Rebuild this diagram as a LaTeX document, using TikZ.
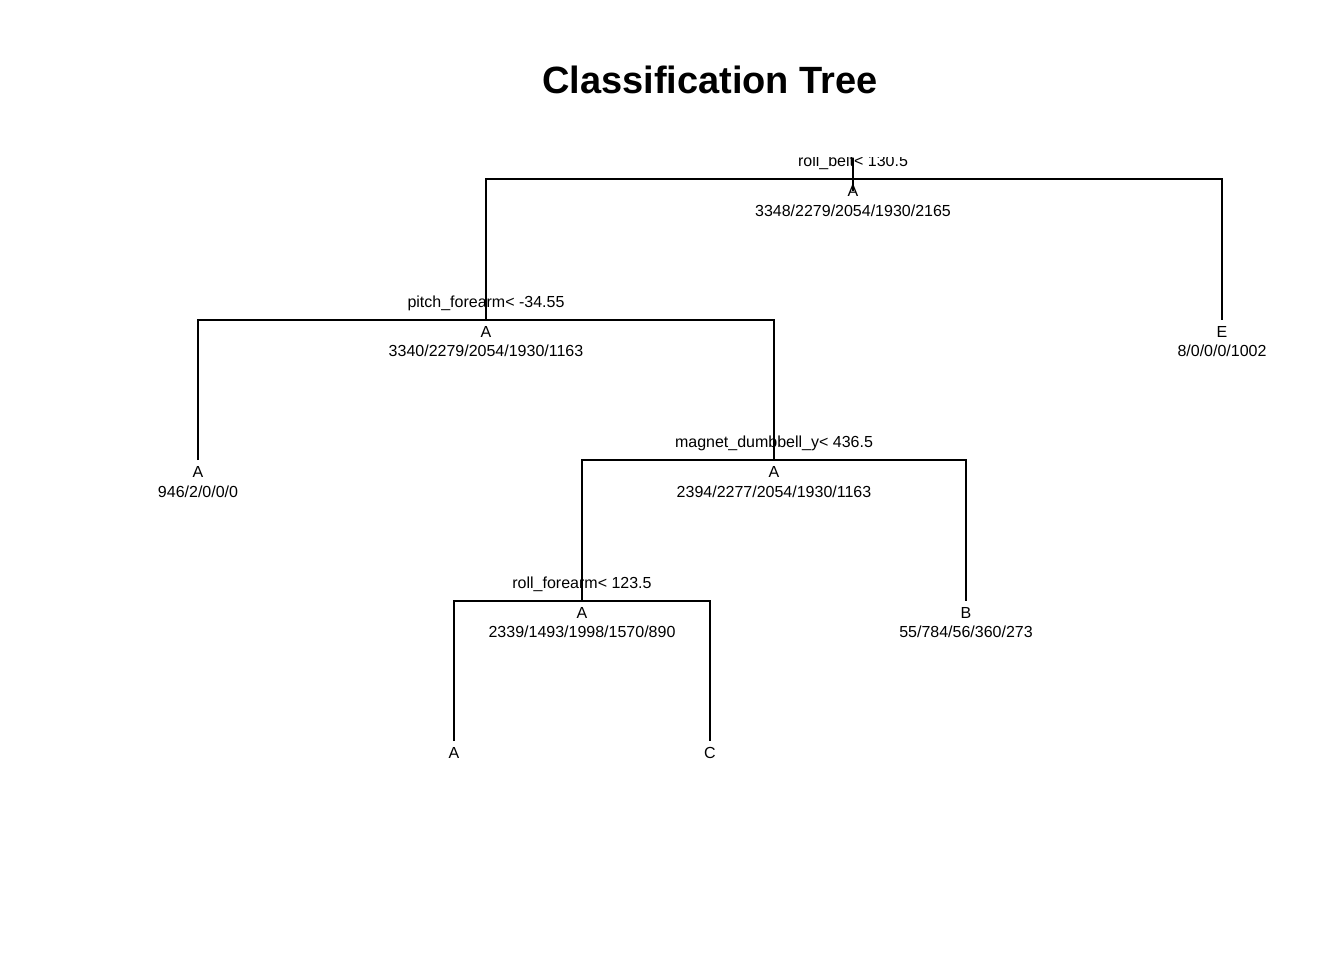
\documentclass[tikz,border=0pt]{standalone}
\usepackage{fontspec}
\setmainfont{Liberation Sans}
\usepackage{tikz}

\tikzset{
  branch/.style={line width=1.5pt},
  splitlab/.style={anchor=base, inner sep=0pt, font=\fontsize{12}{14}\selectfont},
  classlab/.style={anchor=base, inner sep=0pt, font=\fontsize{12}{14}\selectfont},
  countlab/.style={anchor=base, inner sep=0pt, font=\fontsize{12}{14}\selectfont}
}

\begin{document}
\begin{tikzpicture}[x=0.75pt, y=-0.75pt]
    \useasboundingbox (0,0) rectangle (1344,960);

    % Title
    \node[anchor=base, inner sep=0pt, font=\fontsize{28.5}{32}\selectfont\bfseries] (title) at (710,93) {Classification Tree};

    % Split points and leaves
    \coordinate (root) at (853,179);
    \coordinate (rootstub) at (853,157.5);
    \coordinate (rootend) at (853,191);
    \coordinate (pitch) at (486,320);
    \coordinate (leafE) at (1222,320);
    \coordinate (leafA1) at (198,460);
    \coordinate (magnet) at (774,460);
    \coordinate (rollf) at (582,601);
    \coordinate (leafB) at (966,601);
    \coordinate (leafA2) at (454,741);
    \coordinate (leafC) at (710,741);

    % Branches
    \draw[branch] (rootstub) -- (rootend);
    \draw[branch] (pitch) |- (root) -| (leafE);
    \draw[branch] (leafA1) |- (pitch) -| (magnet);
    \draw[branch] (rollf) |- (magnet) -| (leafB);
    \draw[branch] (leafA2) |- (rollf) -| (leafC);

    % Root label (cut at the top)
    \begin{scope}
        \clip (0,157.5) rectangle (1344,960);
        \node[splitlab] (rootsplit) at (853,166) {roll\_belt< 130.5};
    \end{scope}
    \node[classlab] (rootclass) at (853,196) {A};
    \node[countlab] (rootcount) at (853,216) {3348/2279/2054/1930/2165};

    % pitch_forearm
    \node[splitlab] (pitchsplit) at (486,307) {pitch\_forearm< -34.55};
    \node[classlab] (pitchclass) at (486,337) {A};
    \node[countlab] (pitchcount) at (486,356) {3340/2279/2054/1930/1163};

    % Leaf E
    \node[classlab] (Eclass) at (1222,337) {E};
    \node[countlab] (Ecount) at (1222,356) {8/0/0/0/1002};

    % Leaf A (left)
    \node[classlab] (A1class) at (198,477) {A};
    \node[countlab] (A1count) at (198,497) {946/2/0/0/0};

    % magnet_dumbbell_y
    \node[splitlab] (magnetsplit) at (774,447) {magnet\_dumbbell\_y< 436.5};
    \node[classlab] (magnetclass) at (774,477) {A};
    \node[countlab] (magnetcount) at (774,497) {2394/2277/2054/1930/1163};

    % Leaf B
    \node[classlab] (Bclass) at (966,618) {B};
    \node[countlab] (Bcount) at (966,637) {55/784/56/360/273};

    % roll_forearm
    \node[splitlab] (rollfsplit) at (582,588) {roll\_forearm< 123.5};
    \node[classlab] (rollfclass) at (582,618) {A};
    \node[countlab] (rollfcount) at (582,637) {2339/1493/1998/1570/890};

    % Bottom leaves
    \node[classlab] (A2class) at (454,758) {A};
    \node[classlab] (Cclass) at (710,758) {C};
\end{tikzpicture}
\end{document}
